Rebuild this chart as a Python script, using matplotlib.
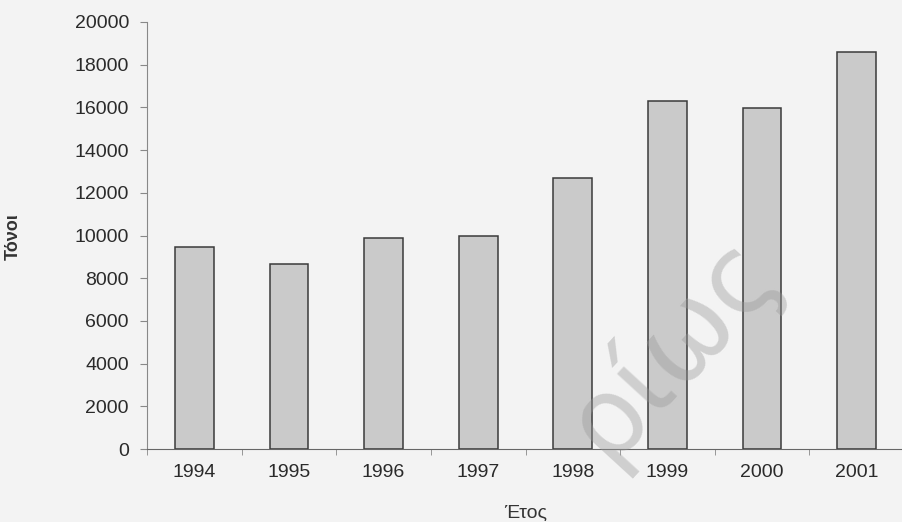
import matplotlib
matplotlib.use("Agg")
import matplotlib.pyplot as plt
import numpy as np

# Annual tonnage per year
years = ["1994", "1995", "1996", "1997", "1998", "1999", "2000", "2001"]
tonnes = [9450, 8650, 9900, 10000, 12700, 16300, 15950, 18600]
y_ticks = list(range(0, 20001, 2000))

plt.rcParams["font.family"] = ["Liberation Sans", "DejaVu Sans"]

BG = "#f3f3f3"
W, H = 903, 522
fig = plt.figure(figsize=(W / 100, H / 100), dpi=100, facecolor=BG)
ax = fig.add_axes([147 / W, 1 - 449 / H, 757 / W, 427 / H])
ax.set_facecolor(BG)

x = np.arange(len(years))
ax.bar(x, tonnes, width=0.41, color="#cacaca", edgecolor="#3a3a3a",
       linewidth=1.1, zorder=2)

ax.set_xlim(-0.5, len(years) - 0.5)
ax.set_ylim(0, 20000)
ax.set_yticks(y_ticks)
ax.set_yticklabels([str(v) for v in y_ticks])
ax.set_xticks(x)
ax.set_xticklabels(years)
ax.set_xticks(np.arange(-0.5, len(years)), minor=True)

ax.tick_params(axis="x", which="major", length=0, pad=11, labelsize=14,
               labelcolor="#2a2a2a")
ax.tick_params(axis="x", which="minor", length=4, direction="out",
               color="#888888")
ax.tick_params(axis="y", length=5, pad=8, labelsize=14,
               labelcolor="#2a2a2a", color="#888888")

for side in ("top", "right"):
    ax.spines[side].set_visible(False)
ax.spines["left"].set_color("#888888")
ax.spines["bottom"].set_color("#666666")

fig.text(13 / W, 1 - 237 / H, "Τόνοι", rotation=90, ha="center",
         va="center", fontsize=13, fontweight="bold", color="#333333")
fig.text(526 / W, 1 - 513 / H, "Έτος", ha="center", va="center",
         fontsize=14, color="#333333")

# Faint diagonal watermark
fig.text(670 / W, 1 - 346 / H, "ρίως", rotation=47.5, rotation_mode="anchor",
         ha="center", va="center", fontsize=78,
         family=["DejaVu Sans"], color="#999999", alpha=0.4, zorder=5)

fig.savefig("out.png", dpi=100, facecolor=fig.get_facecolor())
